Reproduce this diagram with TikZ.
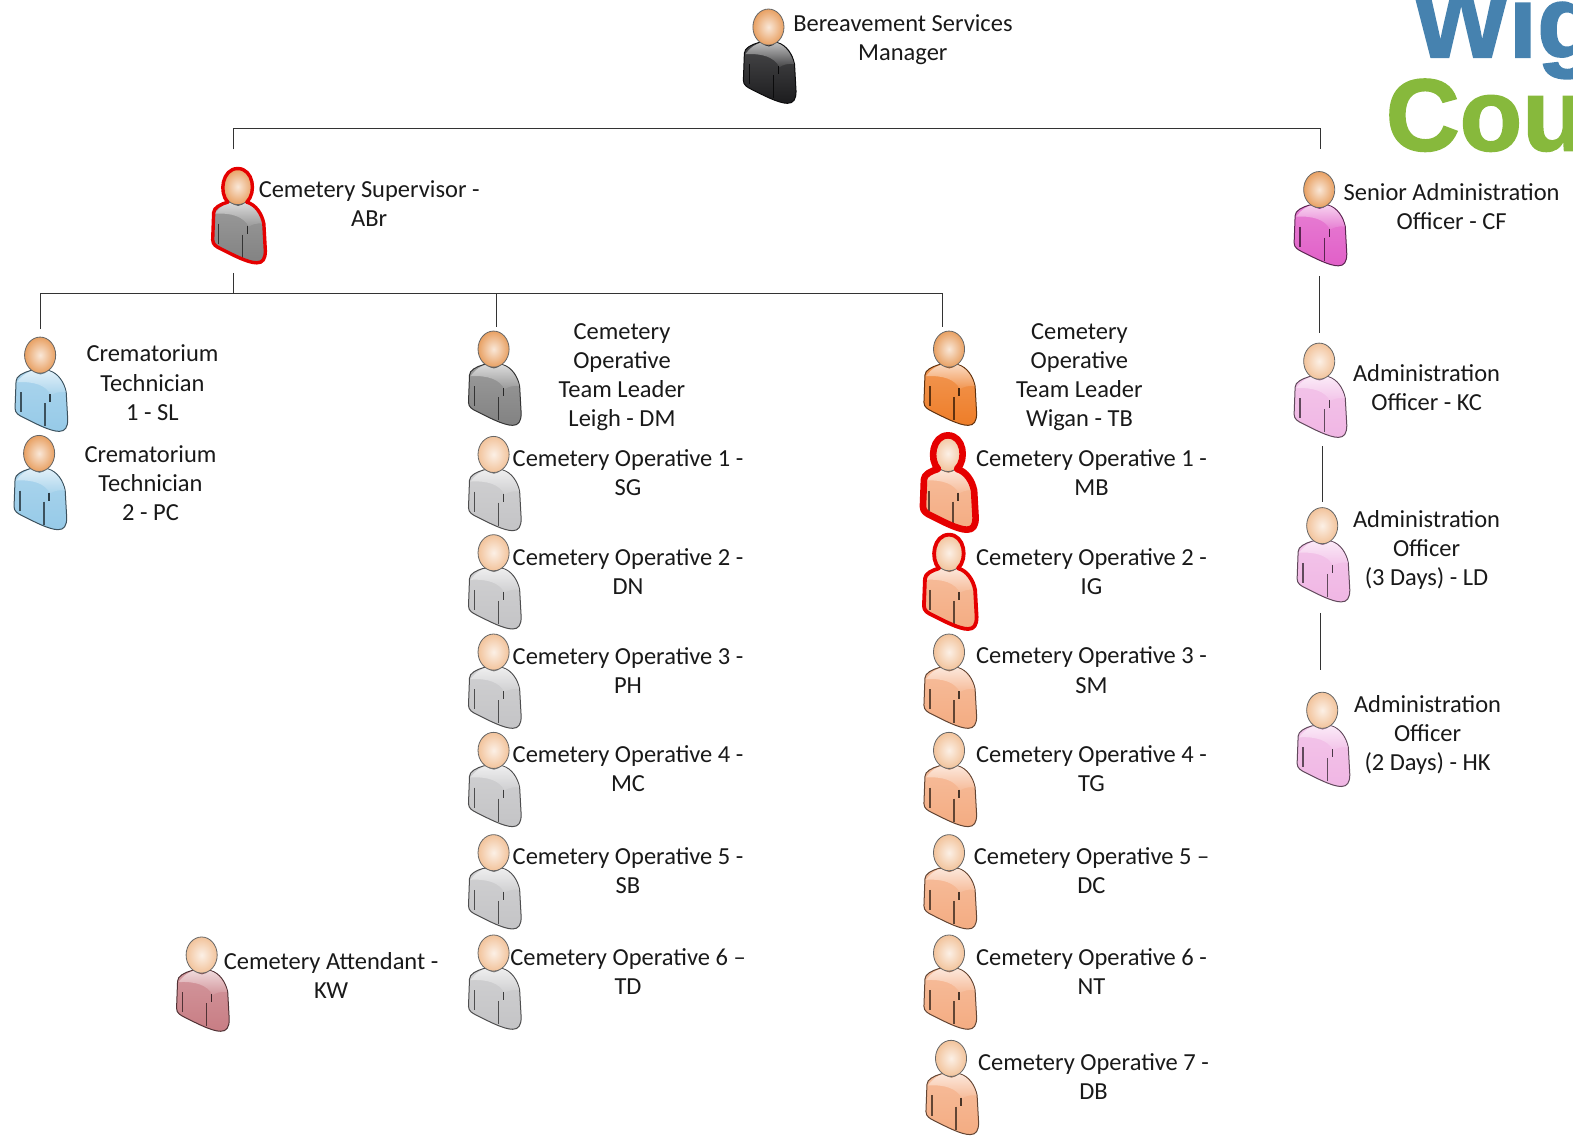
\documentclass[tikz,border=0pt]{standalone}
\usepackage{fontspec}
\setmainfont{Carlito}
\newfontfamily\logofont[BoldFeatures={FakeBold=1.6}]{Liberation Sans}
\usetikzlibrary{shapes.geometric}

\definecolor{bossBlack}{RGB}{28,28,30}
\definecolor{leadGray}{RGB}{130,130,130}
\definecolor{opGray}{RGB}{196,196,198}
\definecolor{techBlue}{RGB}{150,202,232}
\definecolor{leadOrange}{RGB}{238,125,40}
\definecolor{opOrange}{RGB}{244,172,130}
\definecolor{adminMagenta}{RGB}{225,95,200}
\definecolor{adminPink}{RGB}{240,182,228}
\definecolor{standRose}{RGB}{200,125,132}
\definecolor{headTan}{RGB}{232,160,98}
\definecolor{headPale}{RGB}{242,195,155}
\definecolor{logoBlue}{RGB}{70,130,175}
\definecolor{logoGreen}{RGB}{135,185,60}

\tikzstyle{label}=[align=center,inner sep=0pt,text=black!90,font=\fontsize{12.2}{14.5}\selectfont]
\tikzstyle{orgLine}=[draw=black!80,line width=0.5pt]
\tikzstyle{headShape}=[shape=ellipse,inner sep=0pt,minimum width=15.5pt,minimum height=18pt]
\tikzstyle{logoText}=[inner sep=0pt,anchor=base west,font=\logofont\bfseries\fontsize{51}{51}\selectfont]

\tikzset{
    bodyShape/.style={insert path={(-25,53) -- (-24,26) .. controls (-24,21) and (-17,17.5) .. (-10,15.5)
        -- (9,15.5) .. controls (18,18) and (24,27) .. (26,37) -- (27.5,64)
        .. controls (27.5,72) and (25,76) .. (19,76) .. controls (10,76) and (-5,68) .. (-17,62)
        .. controls (-21,60) and (-25,58) .. (-25,53) -- cycle}},
    outlineShape/.style={insert path={(-25,53) -- (-24,26) .. controls (-24,21) and (-17,17.5) .. (-10,15.5)
        .. controls (-19,6) and (-15.5,-18) .. (0,-18) .. controls (15.5,-18) and (19,6) .. (9,15.5)
        .. controls (18,18) and (24,27) .. (26,37) -- (27.5,64)
        .. controls (27.5,72) and (25,76) .. (19,76) .. controls (10,76) and (-5,68) .. (-17,62)
        .. controls (-21,60) and (-25,58) .. (-25,53) -- cycle}},
    pics/person/.style n args={2}{code={
        \path[bodyShape,draw=#1!40!black,line width=0.5pt,top color=#1!80!white,bottom color=#1];
        \path[top color=#1!30!white,bottom color=#1!82!white] (-23,27) .. controls (-17,19) and (-12,17) .. (-9,16)
            -- (9,16) .. controls (17,18.5) and (23,27) .. (25.5,37) .. controls (18,36) and (14,38) .. (11,40)
            .. controls (6,30) and (-6,26) .. (-23,27) -- cycle;
        \fill[#1!65!black] (-8,14) .. controls (-3,21) and (4,21) .. (8,14) -- cycle;
        \draw[#1!40!black,line width=0.7pt] (-19,37) -- (-19,57);
        \draw[#1!40!black,line width=0.7pt] (5,48) -- (5,71);
        \draw[#1!30!black,line width=0.7pt] (10,39) -- (10,47);
        \node[headShape,draw=black!60,line width=0.4pt,inner color=#2!25!white,outer color=#2] (-head) at (0,0) {};
    }},
    pics/halo/.style={code={
        \draw[red!90!black,line width=#1,line join=round,outlineShape];
    }}
}

\begin{document}
\begin{tikzpicture}[x=0.5pt,y=-0.5pt]
    \useasboundingbox (0,0) rectangle (1568,1139.4);

    % logo, cut off by the page
    \begin{scope}
        \clip (0,0) rectangle (1568,1139.4);
        \node[logoText,text=logoBlue]  (logoTop) at (1408,57)  {Wig};
        \node[logoText,text=logoGreen] (logoBot) at (1381,150) {Cou};
    \end{scope}

    % top of the chart
    \pic (boss) at (766,27) {person={bossBlack}{headTan}};
    \pic (sup) at (237,186) {person={leadGray}{headTan}};
    \pic (supHalo) at (237,186) {halo=1.7pt};
    \pic (senior) at (1315,189) {person={adminMagenta}{headTan}};

    \node[label] (bossText)   at (900,40)   {Bereavement Services\\Manager};
    \node[label] (supText)    at (368,203)  {Cemetery Supervisor -\\ABr};
    \node[label] (seniorText) at (1447,206) {Senior Administration\\Officer - CF};

    % left column
    \pic (tech1) at (40,354) {person={techBlue}{headTan}};
    \pic (tech2) at (39,452) {person={techBlue}{headTan}};
    \pic (stand) at (201,952) {person={standRose}{headPale}};

    \node[label] (tech1Text) at (152,381.5) {Crematorium\\Technician\\1 - SL};
    \node[label] (tech2Text) at (150,481.5) {Crematorium\\Technician\\2 - PC};
    \node[label] (standText) at (330,972.5) {Cemetery Attendant -\\KW};

    % Leigh
    \pic (leadL) at (492,348) {person={leadGray}{headTan}};
    \pic (opL1) at (492,453) {person={opGray}{headPale}};
    \pic (opL2) at (492,551) {person={opGray}{headPale}};
    \pic (opL3) at (492,650) {person={opGray}{headPale}};
    \pic (opL4) at (492,748) {person={opGray}{headPale}};
    \pic (opL5) at (492,850) {person={opGray}{headPale}};
    \pic (opL6) at (492,950) {person={opGray}{headPale}};

    \node[label] (leadLText) at (620,376)   {Cemetery\\Operative\\Team Leader\\Leigh - DM};
    \node[label] (opL1Text)  at (626,471.5) {Cemetery Operative 1 -\\SG};
    \node[label] (opL2Text)  at (626,569.5) {Cemetery Operative 2 -\\DN};
    \node[label] (opL3Text)  at (626,668)   {Cemetery Operative 3 -\\PH};
    \node[label] (opL4Text)  at (626,766)   {Cemetery Operative 4 -\\MC};
    \node[label] (opL5Text)  at (626,868)   {Cemetery Operative 5 -\\SB};
    \node[label] (opL6Text)  at (626,968.5) {Cemetery Operative 6 –\\TD};

    % Wigan
    \pic (leadW) at (946,348) {person={leadOrange}{headTan}};
    \pic (opW1) at (945,452) {person={opOrange}{headPale}};
    \pic (opW1Halo) at (945,452) {halo=3.3pt};
    \pic (opW2) at (946,551) {person={opOrange}{headPale}};
    \pic (opW2Halo) at (946,551) {halo=1.9pt};
    \pic (opW3) at (946,650) {person={opOrange}{headPale}};
    \pic (opW4) at (946,748) {person={opOrange}{headPale}};
    \pic (opW5) at (946,850) {person={opOrange}{headPale}};
    \pic (opW6) at (946,950) {person={opOrange}{headPale}};
    \pic (opW7) at (948,1055) {person={opOrange}{headPale}};

    \node[label] (leadWText) at (1076,376)   {Cemetery\\Operative\\Team Leader\\Wigan - TB};
    \node[label] (opW1Text)  at (1088,471)   {Cemetery Operative 1 -\\MB};
    \node[label] (opW2Text)  at (1088,569.5) {Cemetery Operative 2 -\\IG};
    \node[label] (opW3Text)  at (1088,668)   {Cemetery Operative 3 -\\SM};
    \node[label] (opW4Text)  at (1088,766)   {Cemetery Operative 4 -\\TG};
    \node[label] (opW5Text)  at (1088,868)   {Cemetery Operative 5 –\\DC};
    \node[label] (opW6Text)  at (1088,968.5) {Cemetery Operative 6 -\\NT};
    \node[label] (opW7Text)  at (1090,1073)  {Cemetery Operative 7 -\\DB};

    % administration
    \pic (adminKC) at (1315,360) {person={adminPink}{headPale}};
    \pic (adminLD) at (1318,524) {person={adminPink}{headPale}};
    \pic (adminHK) at (1318,708) {person={adminPink}{headPale}};

    \node[label] (adminKCText) at (1422,386.5) {Administration\\Officer - KC};
    \node[label] (adminLDText) at (1422,548.5) {Administration\\Officer\\(3 Days) - LD};
    \node[label] (adminHKText) at (1423,733)   {Administration\\Officer\\(2 Days) - HK};

    % line ends
    \coordinate (topL) at (233,149);
    \coordinate (topR) at (1316,149);
    \coordinate (topY) at (233,128);
    \coordinate (supFoot) at (233,272);
    \coordinate (busY) at (233,293);
    \coordinate (busL) at (40,328);
    \coordinate (busLY) at (40,293);
    \coordinate (busM) at (495,326);
    \coordinate (busMY) at (495,293);
    \coordinate (busR) at (939,326);
    \coordinate (busRY) at (939,293);
    \coordinate (seniorFoot) at (1315,275);
    \coordinate (kcTop) at (1315,332);
    \coordinate (kcFoot) at (1318,445);
    \coordinate (ldTop) at (1318,500);
    \coordinate (ldFoot) at (1316,611);
    \coordinate (hkTop) at (1316,668);

    \draw [orgLine] (topL) -- (topY) -| (topR);
    \draw [orgLine] (supFoot) -- (busY);
    \draw [orgLine] (busL) -- (busLY) -- (busRY) -- (busR);
    \draw [orgLine] (busMY) -- (busM);
    \draw [orgLine] (seniorFoot) -- (kcTop);
    \draw [orgLine] (kcFoot) -- (ldTop);
    \draw [orgLine] (ldFoot) -- (hkTop);
\end{tikzpicture}
\end{document}
